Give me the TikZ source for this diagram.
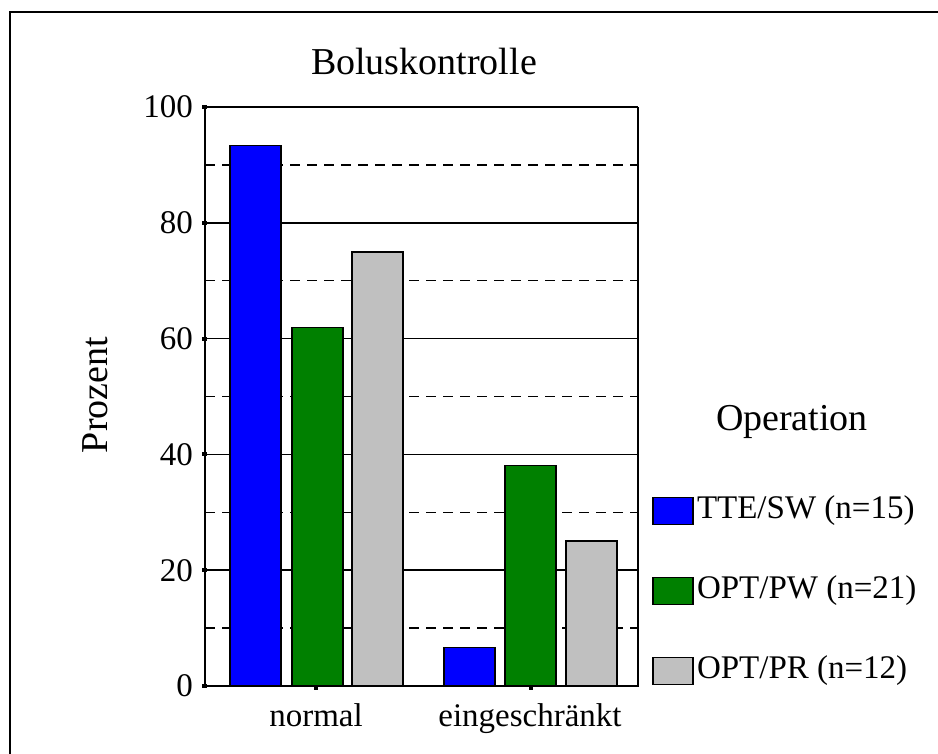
\documentclass[tikz,border=0pt]{standalone}
\usepackage{fontspec}
\setmainfont{Liberation Serif}
\usetikzlibrary{positioning}

\definecolor{tteblue}{RGB}{0,0,255}
\definecolor{optgreen}{RGB}{0,128,0}
\definecolor{prgray}{RGB}{192,192,192}

\tikzset{
  bar/.style={draw=black, line width=1.6pt},
  legbox/.style={draw=black, line width=1.6pt, minimum width=40pt, minimum height=27pt, inner sep=0pt},
  ticklabel/.style={font=\fontsize{33}{38}\selectfont, inner sep=0pt},
  bigtext/.style={font=\fontsize{38}{44}\selectfont, inner sep=0pt},
  gridline/.style={line width=1.6pt},
}

\begin{document}
\begin{tikzpicture}[x=1pt,y=-1pt]
    \useasboundingbox (0,0) rectangle (938,754);
    % Frame
    \draw[line width=2pt] (10,770) -- (10,12) -- (950,12);
    % Grid
    \foreach \p in {10,30,50,70,90}
        \draw[gridline, dash pattern=on 10pt off 7pt] (205,{686-5.79*\p}) -- (638,{686-5.79*\p});
    \foreach \p in {20,40,60,80,100}
        \draw[gridline] (205,{686-5.79*\p}) -- (638,{686-5.79*\p});
    % Bars
    \foreach \x/\h/\c in {230/93.33/tteblue, 292/61.90/optgreen, 352/75/prgray,
                          444/6.67/tteblue, 505/38.10/optgreen, 566/25/prgray}
        \draw[bar, fill=\c] (\x,686) rectangle ({\x+51},{686-5.79*\h});
    % Axes
    \draw[line width=2pt] (205,107) -- (205,686) -- (638,686) -- (638,107);
    \foreach \p in {0,20,40,60,80,100} {
        \fill (202,{684-5.79*\p}) rectangle (207,{688-5.79*\p});
        \node[ticklabel, anchor=east] (tick\p) at (193,{686-5.79*\p}) {\p};
    }
    \foreach \x in {316,531}
        \fill ({\x-2},686) rectangle ({\x+2},690);
    % Labels
    \node[bigtext] (title) at (424,62) {Boluskontrolle};
    \node[bigtext, rotate=90] (ylabel) at (95,395) {Prozent};
    \node[ticklabel, anchor=base] (normal) at (316,726) {normal};
    \node[ticklabel, anchor=base] (eing) at (530,726) {eingeschränkt};
    % Legend
    \node[bigtext] (legtitle) at (792,422) {Operation};
    \node[legbox, fill=tteblue] (key1) at (673,511) {};
    \node[ticklabel, right=3pt of key1] (lab1) {TTE/SW (n=15)};
    \node[legbox, fill=optgreen] (key2) at (673,591) {};
    \node[ticklabel, right=3pt of key2] (lab2) {OPT/PW (n=21)};
    \node[legbox, fill=prgray] (key3) at (673,671) {};
    \node[ticklabel, right=3pt of key3] (lab3) {OPT/PR (n=12)};
\end{tikzpicture}
\end{document}
